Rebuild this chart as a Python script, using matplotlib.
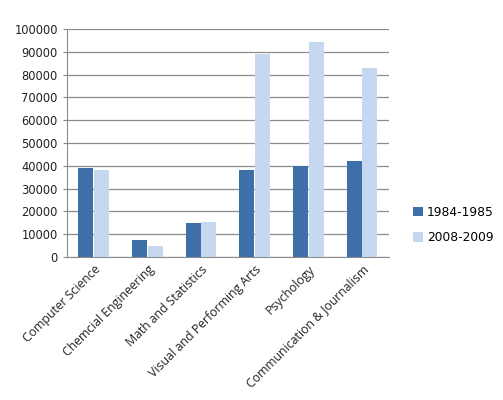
import numpy as np
from matplotlib import pyplot as plt

categories = ['Computer Science', 'Chemcial Engineering', 'Math and Statistics',
              'Visual and Performing Arts', 'Psychology', 'Communication & Journalism']
series_names = ['1984-1985', '2008-2009']
values_1984 = [39000, 7500, 15000, 38000, 40000, 42000]
values_2008 = [38000, 5000, 15500, 89000, 94500, 83000]
colors = ['#3F6FA9', '#C6D8F0']

fig = plt.figure(figsize=(5.03, 4.0), dpi=100)
ax = fig.add_axes([0.133, 0.3575, 0.64, 0.57])

x = np.arange(len(categories))
w = 0.28
ax.bar(x - w / 2 - 0.005, values_1984, w, color=colors[0], label=series_names[0], zorder=3)
ax.bar(x + w / 2 + 0.005, values_2008, w, color=colors[1], label=series_names[1], zorder=3)

ax.set_xlim(-0.5, len(categories) - 0.5)
ax.set_ylim(0, 100000)
ax.set_yticks(range(0, 100001, 10000))
ax.tick_params(axis='y', labelsize=8.3, length=3, color='#888888', labelcolor='#222222')
ax.grid(axis='y', color='#8c8c8c', linewidth=0.9, zorder=0)

ax.set_xticks(x)
ax.set_xticklabels(categories, rotation=45, ha='right', va='top',
                   rotation_mode='anchor', fontsize=8.8, family='Open Sans', color='#222222')
ax.tick_params(axis='x', length=0, pad=4)

for side in ['top', 'right']:
    ax.spines[side].set_visible(False)
for side in ['left', 'bottom']:
    ax.spines[side].set_color('#8c8c8c')

ax.legend(loc='center left', bbox_to_anchor=(1.042, 0.14), frameon=False,
          fontsize=8.8, handlelength=0.8, handleheight=0.8, handletextpad=0.3,
          labelspacing=1.0)

plt.savefig('out.png', dpi=100)
